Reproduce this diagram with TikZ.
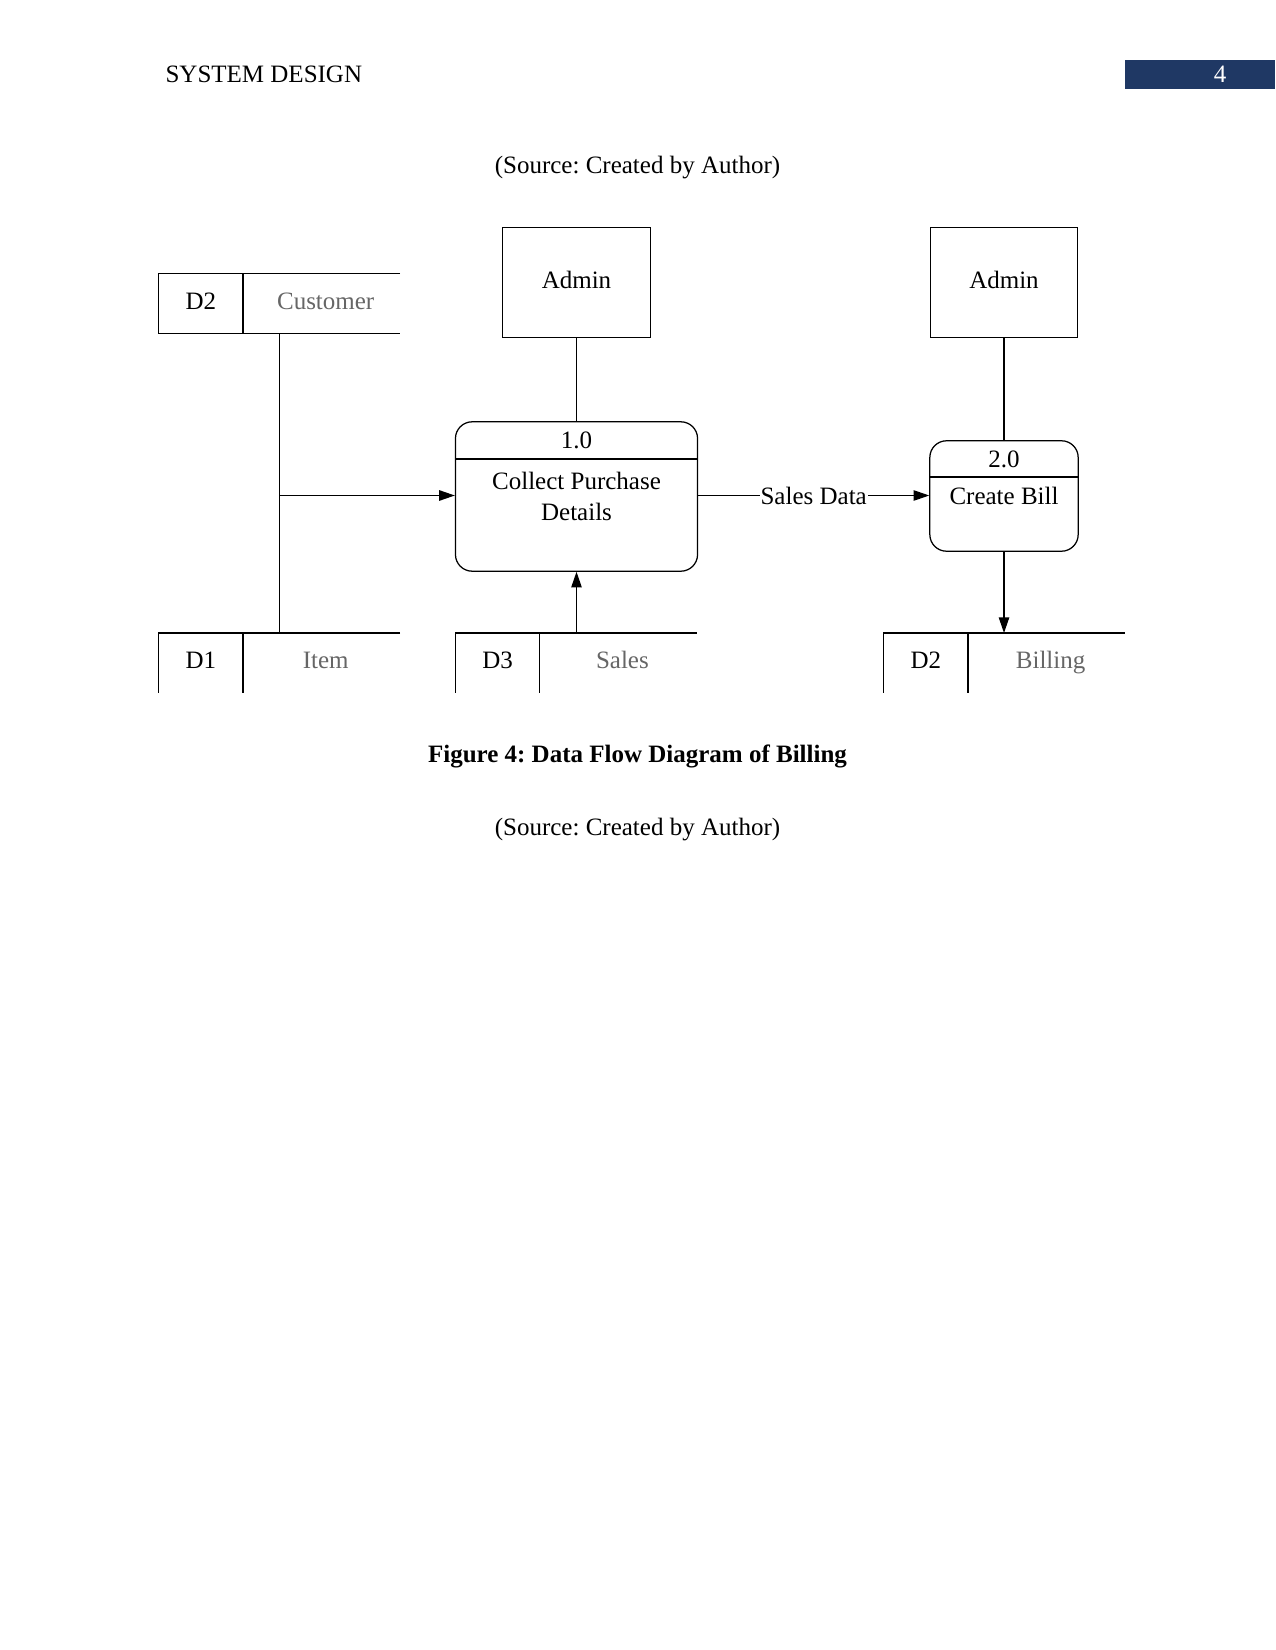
\documentclass[tikz,border=0pt]{standalone}
\usepackage{fontspec}
\setmainfont{Liberation Serif}
\usepackage{xcolor}
\usepackage{tikz}
\usetikzlibrary{arrows.meta,positioning}
\definecolor{hdrblue}{HTML}{1F3864}
\frenchspacing

\begin{document}
\begin{tikzpicture}[x=0.48pt,y=-0.48pt,font=\fontsize{12}{14.6}\selectfont,line width=0.6pt,
 entity/.style={draw,minimum width=70.8pt,minimum height=53pt,text depth=3pt},
 process/.style={draw,rounded corners=8pt,align=center,inner sep=0pt},
 storeid/.style={minimum width=40.4pt,minimum height=28.6pt,inner sep=0pt,outer sep=0pt,text height=1.5ex,text depth=0.25ex},
 storename/.style={minimum width=75.4pt,minimum height=28.6pt,inner sep=0pt,outer sep=0pt,text=black!60,
  text height=1.5ex,text depth=0.25ex,execute at begin node={\hspace*{4pt}}},
 flow/.style={-{Triangle[length=7.5pt,width=5pt]}}]
\useasboundingbox (0,0) rectangle (1275,1650);
% page header and captions
\fill[hdrblue] (1124.6,60) rectangle (1275,89.4);
\node[anchor=base west] (hdr) at (158,83) {SYSTEM DESIGN};
\node[anchor=base,text=white] (pg) at (1220,83) {4};
\node (src1) at (637.5,168) {(Source: Created by Author)};
\node[font=\fontsize{12}{14.6}\selectfont\bfseries] (cap) at (637.5,756) {Figure 4: Data Flow Diagram of Billing};
\node (src2) at (637.5,830) {(Source: Created by Author)};
% external entities
\node[entity] (adm1) at (576.5,282.5) {Admin};
\node[entity] (adm2) at (1004,282.5) {Admin};
% processes
\node[process,minimum width=116.2pt,minimum height=71.7pt] (p1) at (576.5,496.5) {Collect Purchase\\Details};
\node (p1id) at (576.5,440.8) {1.0};
\draw ([yshift=-18.1pt]p1.north west) -- ([yshift=-18.1pt]p1.north east);
\node[process,minimum width=71.2pt,minimum height=53pt] (p2) at (1004,496) {Create Bill};
\node (p2id) at (1004,459.2) {2.0};
\draw ([yshift=-17.7pt]p2.north west) -- ([yshift=-17.7pt]p2.north east);
% data stores
\node[storeid] (d2id) at (200.9,303.5) {D2};
\node[storename,right=0pt of d2id] (cust) {Customer};
\draw (cust.north east) -- (d2id.north west) -- (d2id.south west) -- (cust.south east);
\draw (d2id.north east) -- (d2id.south east);
\node[storeid] (d1id) at (200.9,662.8) {D1};
\node[storename,right=0pt of d1id] (item) {Item};
\draw (item.north east) -- (d1id.north west) -- (d1id.south west);
\draw (d1id.north east) -- (d1id.south east);
\node[storeid] (d3id) at (497.6,662.8) {D3};
\node[storename,right=0pt of d3id] (sales) {Sales};
\draw (sales.north east) -- (d3id.north west) -- (d3id.south west);
\draw (d3id.north east) -- (d3id.south east);
\node[storeid] (d2bid) at (925.8,662.8) {D2};
\node[storename,right=0pt of d2bid] (bill) {Billing};
\draw (bill.north east) -- (d2bid.north west) -- (d2bid.south west);
\draw (d2bid.north east) -- (d2bid.south east);
% flows
\coordinate (jn) at (279.8,495.5);
\draw (cust.south -| jn) -- (item.north -| jn);
\draw[flow] (jn) -- (p1.west |- jn);
\draw (adm1) -- (p1);
\draw[flow] (sales.north -| p1.south) -- (p1.south);
\draw[flow] (p1.east |- jn) -- node[fill=white,inner sep=0.5pt] (sd) {Sales Data} (p2.west |- jn);
\draw (adm2) -- (p2);
\draw[flow] (p2.south) -- (bill.north -| p2.south);
\end{tikzpicture}
\end{document}
